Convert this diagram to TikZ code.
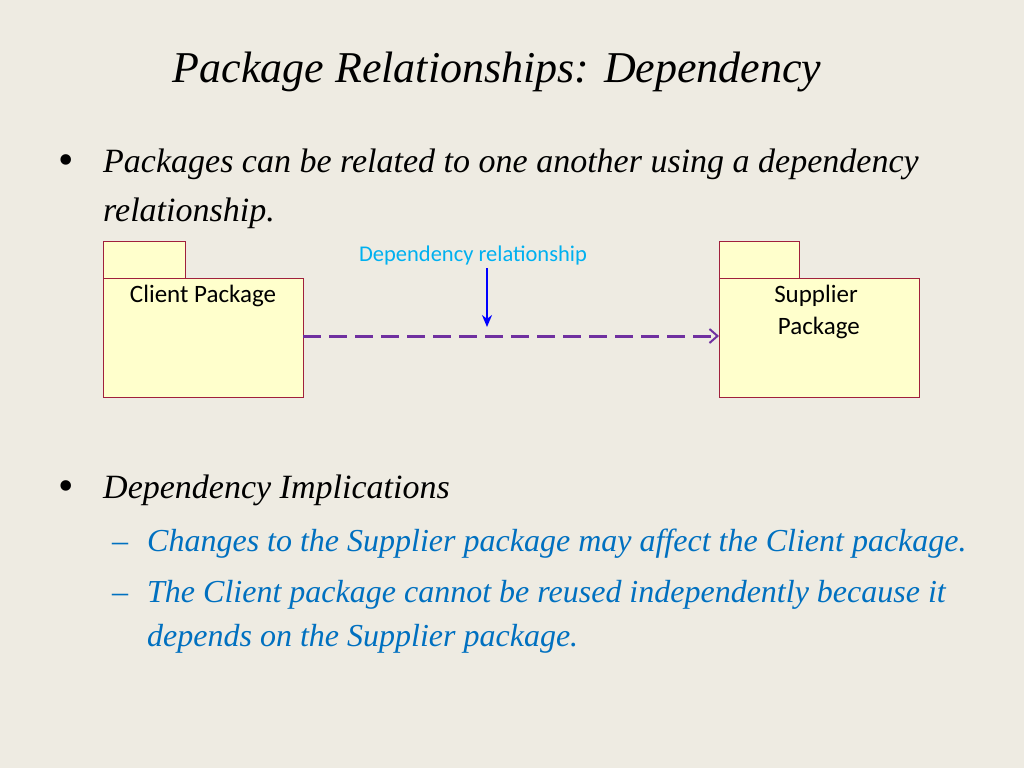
\documentclass[tikz,border=0pt]{standalone}
\usepackage{fontspec}
\setmainfont{Liberation Serif}
\setsansfont{Carlito}
\usetikzlibrary{arrows.meta}
\definecolor{slidebg}{HTML}{EEEBE2}
\definecolor{pkgfill}{HTML}{FFFFCC}
\definecolor{pkgline}{HTML}{A0203C}
\definecolor{deppurple}{HTML}{7030A0}
\definecolor{labelcyan}{HTML}{00B0F0}
\definecolor{subblue}{HTML}{0070C0}
\tikzset{
  pkg/.style={draw=pkgline, fill=pkgfill, line width=0.8pt},
  pkglabel/.style={font=\sffamily\fontsize{25}{32}\selectfont, align=center, anchor=north},
  bodytext/.style={font=\itshape\fontsize{34}{40}\selectfont, anchor=base west, inner sep=0pt},
  subtext/.style={font=\itshape\fontsize{32}{38}\selectfont, anchor=base west, inner sep=0pt, text=subblue},
}
\begin{document}
\begin{tikzpicture}[x=1pt, y=-1pt]
    \fill[slidebg] (0,0) rectangle (1024,768);
    \useasboundingbox (0,0) rectangle (1024,768);
    % Title
    \node[font=\itshape\fontsize{44}{52}\selectfont] (title) at (497,72) {Package Relationships: Dependency};
    % First bullet
    \node[bodytext, font=\fontsize{44}{44}\selectfont] (b1) at (58,174) {\textbullet};
    \node[bodytext] (t1) at (103,172) {Packages can be related to one another using a dependency};
    \node[bodytext] (t1b) at (103,221) {relationship.};
    % Packages
    \draw[pkg] (103,241) rectangle (185,278);
    \draw[pkg] (103,278) rectangle (303,397);
    \node[pkglabel] (client) at (203,282) {Client Package};
    \draw[pkg] (719,241) rectangle (799,278);
    \draw[pkg] (719,278) rectangle (919,397);
    \node[pkglabel] (supplier) at (816,282) {Supplier\\ \ Package};
    \coordinate (clientR) at (303,336);
    \coordinate (supplierL) at (719,336);
    \draw[deppurple, line width=3pt, dash pattern=on 18pt off 8pt, -{Straight Barb[length=8pt,width=14pt,line width=2pt]}] (clientR) -- (supplierL);
    % Label
    \node[font=\sffamily\fontsize{22.5}{27}\selectfont, text=labelcyan] (deplabel) at (473,255) {Dependency relationship};
    \coordinate (tip) at (487,327);
    \draw[blue, line width=2.5pt, -{Stealth[length=12pt,width=10pt]}] (487,268) -- (tip);
    % Second bullet
    \node[bodytext, font=\fontsize{44}{44}\selectfont] (b2) at (58,500) {\textbullet};
    \node[bodytext] (t2) at (103,498) {Dependency Implications};
    \node[subtext] (d1) at (112,551) {\textendash};
    \node[subtext] (s1) at (147,551) {Changes to the Supplier package may affect the Client package.};
    \node[subtext] (d2) at (112,602) {\textendash};
    \node[subtext] (s2) at (147,602) {The Client package cannot be reused independently because it};
    \node[subtext] (s2b) at (147,646) {depends on the Supplier package.};
\end{tikzpicture}
\end{document}
